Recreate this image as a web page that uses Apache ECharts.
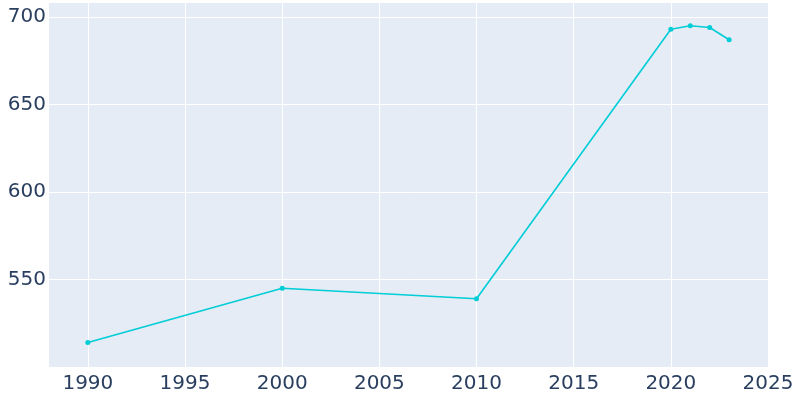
<!DOCTYPE html>
<html><head><meta charset="utf-8"><script src="https://cdn.jsdelivr.net/npm/echarts@6/dist/echarts.min.js"></script>
<style>html,body{margin:0;padding:0;background:#fff}#c{width:800px;height:400px}</style></head>
<body><div id="c"></div><script>
const years=[1990,2000,2010,2020,2021,2022,2023];
const population=[514,545,539,693,695,694,687];
const xTicks=[1990,1995,2000,2005,2010,2015,2020,2025];
const yTicks=[550,600,650,700];
const chart=echarts.init(document.getElementById('c'));
chart.setOption({
 animation:false,
 grid:{left:49,right:32,top:3,bottom:33,backgroundColor:'#e5ecf6',show:true,borderWidth:0},
 xAxis:{type:'value',min:1988,max:2025,
  axisLine:{show:false},axisTick:{show:false},
  splitLine:{show:false},
  axisLabel:{fontSize:20,color:'#2a3f5f',fontFamily:'DejaVu Sans',margin:7,showMinLabel:false,
   formatter:v=>xTicks.includes(v)?String(v):''},
  interval:1},
 yAxis:{type:'value',min:500,max:708,
  axisLine:{show:false},axisTick:{show:false},splitLine:{show:false},
  axisLabel:{show:false}},
 series:[
  {type:'line',z:1,data:xTicks.map(v=>[v,500]),silent:true,symbol:'none',lineStyle:{width:0},
   markLine:{z:1,silent:true,symbol:'none',label:{show:false},lineStyle:{color:'#fff',width:1,type:'solid'},
    data:xTicks.map(v=>({xAxis:v})).concat(yTicks.map(v=>({yAxis:v})))}},
  {type:'line',z:5,data:years.map((y,i)=>[y,population[i]]),symbol:'circle',symbolSize:5,
   itemStyle:{color:'#00cdd6'},lineStyle:{color:'#00cdd6',width:1.6}}
 ],
 graphic:yTicks.map(v=>({type:'text',z:10,style:{text:String(v),fontSize:20,fill:'#2a3f5f',fontFamily:'DejaVu Sans',align:'right',verticalAlign:'middle'},
   x:46,y:3+(708-v)/208*364}))
});
</script></body></html>
